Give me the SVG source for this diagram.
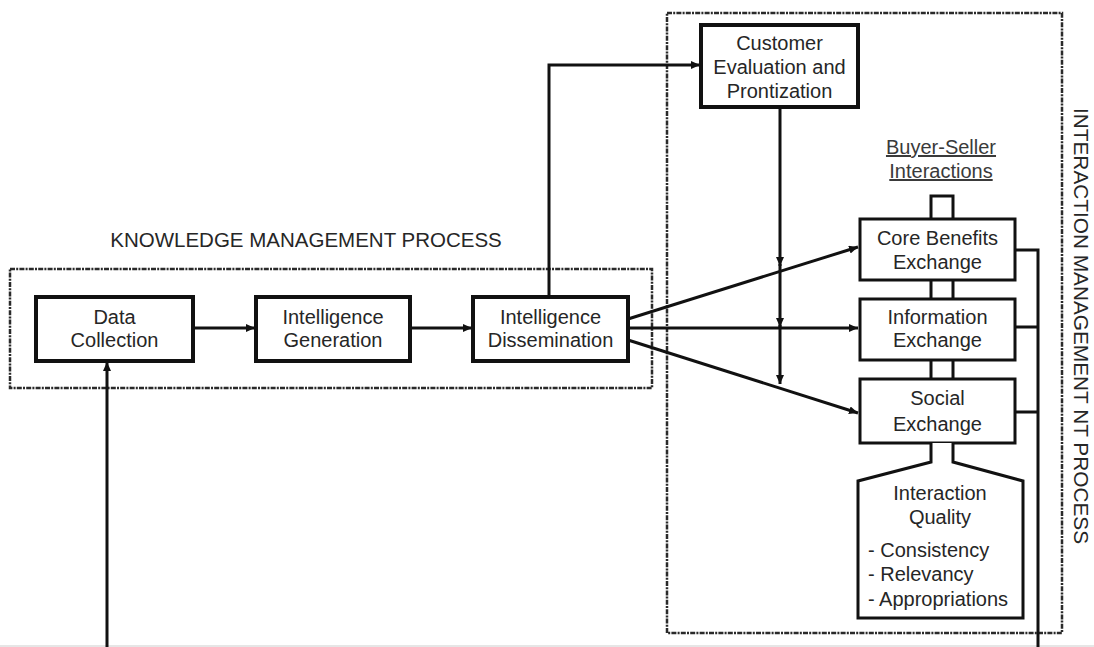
<svg xmlns="http://www.w3.org/2000/svg" width="1094" height="647" viewBox="0 0 1094 647">
<style>
text{font-family:"Liberation Sans",Arial,sans-serif;font-size:20px;fill:#262626;text-anchor:middle}
.box{fill:#fff;stroke:#111;stroke-width:4}
.xbox{fill:#fff;stroke:#111;stroke-width:3}
.dash{fill:none;stroke:#2a2a2a;stroke-width:2.5;stroke-dasharray:5 1.2 2 1.2}
.ln{fill:none;stroke:#111;stroke-width:3}
.arr{fill:none;stroke:#111;stroke-width:3;marker-end:url(#ah)}
.lft{text-anchor:start}
</style>
<defs>
<marker id="ah" markerUnits="userSpaceOnUse" markerWidth="10" markerHeight="9" refX="9" refY="4" orient="auto">
<path d="M0,0 L9,4 L0,8 z" fill="#111"/>
</marker>
</defs>
<rect x="0" y="645" width="1094" height="2" fill="#e6e6e6"/>
<g id="km-process">
<rect class="dash" x="10" y="269" width="642" height="119"/>
<text x="306" y="247" style="font-size:20.5px">KNOWLEDGE MANAGEMENT PROCESS</text>
</g>
<g id="im-process">
<rect class="dash" x="667" y="13" width="395" height="620"/>
<text transform="translate(1074,326) rotate(90)" style="font-size:20.8px">INTERACTION MANAGEMENT NT PROCESS</text>
</g>
<g id="connectors">
<path class="arr" d="M193,328 H255"/>
<path class="arr" d="M410,328 H472"/>
<path class="arr" d="M549,297 V65 H700"/>
<path class="arr" d="M628,319 L858,247"/>
<path class="arr" d="M628,328 H858"/>
<path class="arr" d="M628,340 L858,413"/>
<path class="arr" d="M780,107 V266"/>
<path class="arr" d="M780,264 V327"/>
<path class="arr" d="M780,325 V384"/>
<path class="arr" d="M107,647 V362"/>
<path class="ln" d="M1015,250 H1038 M1015,327 H1038 M1014,412 H1038 M1038,248.5 V647"/>
<path class="ln" d="M931,219 V196 H953 V219 M931,280 V299 M953,280 V299 M931,360 V379 M953,360 V379"/>
</g>
<g id="data-collection">
<rect class="box" x="36" y="297" width="157" height="64"/>
<text x="114.5" y="324">Data</text>
<text x="114.5" y="347">Collection</text>
</g>
<g id="intelligence-generation">
<rect class="box" x="256" y="297" width="154" height="64"/>
<text x="333" y="324">Intelligence</text>
<text x="333" y="347">Generation</text>
</g>
<g id="intelligence-dissemination">
<rect class="box" x="473" y="297" width="155" height="64"/>
<text x="550.5" y="324">Intelligence</text>
<text x="550.5" y="347">Dissemination</text>
</g>
<g id="customer-evaluation">
<rect class="box" x="701" y="25" width="157" height="82"/>
<text x="779.5" y="50">Customer</text>
<text x="779.5" y="74">Evaluation and</text>
<text x="779.5" y="98">Prontization</text>
</g>
<g id="buyer-seller">
<text x="941" y="154" text-decoration="underline" style="fill:#3a3a3a">Buyer-Seller</text>
<text x="941" y="178" text-decoration="underline" style="fill:#3a3a3a">Interactions</text>
</g>
<g id="core-benefits">
<rect class="xbox" x="860" y="219" width="155" height="61"/>
<text x="937.5" y="245">Core Benefits</text>
<text x="937.5" y="269">Exchange</text>
</g>
<g id="information-exchange">
<rect class="xbox" x="860" y="299" width="155" height="61"/>
<text x="937.5" y="324">Information</text>
<text x="937.5" y="347">Exchange</text>
</g>
<g id="social-exchange">
<rect class="xbox" x="860" y="379" width="155" height="64"/>
<text x="937.5" y="405">Social</text>
<text x="937.5" y="431">Exchange</text>
</g>
<g id="interaction-quality">
<path class="xbox" d="M931,443 V462 L858,481 V618 H1023 V481 L953,462 V443"/>
<text x="940" y="500">Interaction</text>
<text x="940" y="524">Quality</text>
<text class="lft" x="868" y="557">- Consistency</text>
<text class="lft" x="868" y="581">- Relevancy</text>
<text class="lft" x="868" y="606">- Appropriations</text>
</g>
</svg>
